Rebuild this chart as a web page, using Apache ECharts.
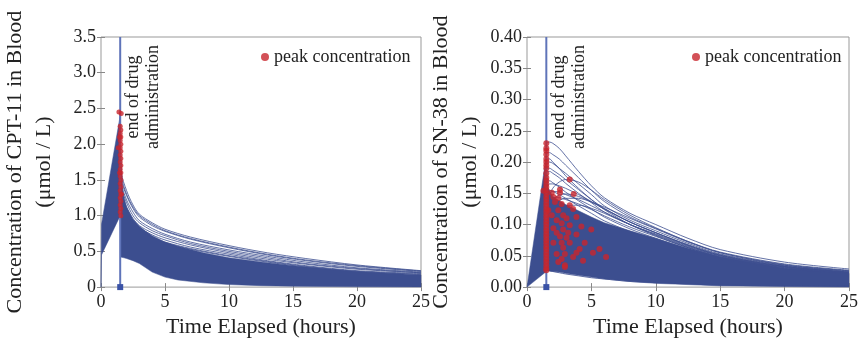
<!DOCTYPE html>
<html>
<head>
<meta charset="utf-8">
<script src="https://cdn.jsdelivr.net/npm/echarts@6/dist/echarts.min.js"></script>
<style>
  html, body { margin: 0; padding: 0; background: #fff; }
  #main { width: 861px; height: 343px; }
</style>
</head>
<body>
<div id="main"></div>
<script>
// ---- CPT-11 (left panel) ----
var cptBandTime  = [0, 0.04, 1.5, 1.55, 1.8, 2, 2.5, 3, 3.5, 4, 5, 6, 8, 10, 12.5, 15, 20, 25];
var cptBandHigh  = [0, 0.88, 2.4, 1.5, 1.25, 1.12, 0.95, 0.85, 0.78, 0.72, 0.63, 0.57, 0.48, 0.41, 0.35, 0.3, 0.22, 0.17];
var cptBandLow   = [0, 0.45, 1.0, 0.42, 0.41, 0.4, 0.37, 0.33, 0.27, 0.21, 0.14, 0.1, 0.06, 0.035, 0.02, 0.012, 0.005, 0.002];

var cptLineTime = [1.5, 1.6, 2, 2.5, 3, 4, 5, 7, 10, 13, 16, 20, 25];
var cptLines = [
  [2.45, 1.6, 1.35, 1.15, 1.02, 0.9, 0.81, 0.7, 0.58, 0.48, 0.4, 0.31, 0.23],
  [2.3, 1.55, 1.3, 1.12, 1.0, 0.88, 0.79, 0.68, 0.56, 0.46, 0.38, 0.3, 0.225],
  [2.2, 1.5, 1.28, 1.1, 0.98, 0.86, 0.78, 0.67, 0.55, 0.45, 0.37, 0.29, 0.22],
  [2.0, 1.45, 1.22, 1.05, 0.93, 0.82, 0.74, 0.63, 0.52, 0.43, 0.35, 0.27, 0.21],
  [1.9, 1.4, 1.18, 1.0, 0.9, 0.79, 0.72, 0.61, 0.5, 0.41, 0.33, 0.26, 0.2],
  [1.8, 1.35, 1.12, 0.96, 0.86, 0.76, 0.69, 0.59, 0.48, 0.39, 0.32, 0.25, 0.2],
  [1.7, 1.3, 1.08, 0.92, 0.83, 0.73, 0.66, 0.56, 0.46, 0.37, 0.3, 0.23, 0.19],
  [1.6, 1.25, 1.04, 0.89, 0.8, 0.7, 0.63, 0.54, 0.44, 0.36, 0.29, 0.22, 0.18],
  [1.5, 1.2, 1.0, 0.87, 0.78, 0.69, 0.62, 0.53, 0.43, 0.35, 0.28, 0.215, 0.175]
];

var cptPeaks = [
  [1.4, 2.45], [1.58, 2.43], [1.35, 1.95],
  [1.5, 2.25], [1.55, 2.2], [1.5, 2.15], [1.55, 2.1], [1.5, 2.05], [1.55, 2.0],
  [1.5, 1.95], [1.55, 1.9], [1.5, 1.85], [1.55, 1.8], [1.5, 1.75], [1.55, 1.7],
  [1.5, 1.65], [1.55, 1.6], [1.5, 1.55], [1.55, 1.5], [1.5, 1.45], [1.55, 1.4],
  [1.5, 1.35], [1.55, 1.3], [1.5, 1.25], [1.55, 1.2], [1.5, 1.15], [1.55, 1.1],
  [1.5, 1.05], [1.55, 1.0], [1.45, 1.6], [1.45, 2.1], [1.6, 1.3]
];

// ---- SN-38 (right panel) ----
var snBandTime = [0, 1.5, 1.6, 2, 2.5, 3, 4, 5, 6, 8, 10, 12.5, 15, 20, 25];
var snBandHigh = [0, 0.21, 0.16, 0.145, 0.138, 0.132, 0.122, 0.112, 0.103, 0.09, 0.078, 0.062, 0.048, 0.03, 0.022];
var snBandLow  = [0, 0.025, 0.026, 0.025, 0.024, 0.022, 0.019, 0.016, 0.013, 0.009, 0.006, 0.004, 0.002, 0.001, 0];

var snLineTime = [1.5, 1.75, 2, 2.5, 3, 4, 5, 6, 8, 10, 12.5, 15, 20, 25];
var snLines = [
  [0.23, 0.232, 0.23, 0.222, 0.21, 0.185, 0.162, 0.143, 0.118, 0.1, 0.078, 0.06, 0.04, 0.029],
  [0.215, 0.215, 0.212, 0.205, 0.195, 0.175, 0.155, 0.137, 0.112, 0.094, 0.073, 0.056, 0.037, 0.027],
  [0.205, 0.205, 0.2, 0.19, 0.178, 0.158, 0.14, 0.124, 0.1, 0.082, 0.063, 0.048, 0.031, 0.022],
  [0.2, 0.2, 0.198, 0.19, 0.182, 0.165, 0.148, 0.13, 0.107, 0.09, 0.07, 0.053, 0.035, 0.026],
  [0.19, 0.19, 0.187, 0.18, 0.172, 0.156, 0.14, 0.126, 0.104, 0.087, 0.067, 0.051, 0.033, 0.024],
  [0.185, 0.185, 0.182, 0.175, 0.166, 0.15, 0.135, 0.12, 0.1, 0.083, 0.064, 0.049, 0.032, 0.023],
  [0.17, 0.17, 0.167, 0.16, 0.152, 0.138, 0.125, 0.112, 0.093, 0.078, 0.06, 0.046, 0.03, 0.022],
  [0.16, 0.165, 0.165, 0.162, 0.158, 0.148, 0.137, 0.125, 0.104, 0.087, 0.067, 0.051, 0.033, 0.024],
  [0.155, 0.155, 0.153, 0.148, 0.142, 0.13, 0.118, 0.106, 0.089, 0.075, 0.058, 0.044, 0.029, 0.021],
  [0.14, 0.15, 0.153, 0.152, 0.148, 0.14, 0.13, 0.12, 0.1, 0.084, 0.065, 0.05, 0.032, 0.023],
  [0.13, 0.14, 0.143, 0.143, 0.14, 0.133, 0.124, 0.114, 0.096, 0.081, 0.063, 0.048, 0.031, 0.022],
  [0.12, 0.145, 0.158, 0.168, 0.172, 0.168, 0.155, 0.14, 0.115, 0.095, 0.073, 0.055, 0.035, 0.025],
  [0.11, 0.13, 0.14, 0.147, 0.149, 0.145, 0.136, 0.125, 0.104, 0.087, 0.068, 0.052, 0.034, 0.024],
  [0.1, 0.118, 0.128, 0.138, 0.142, 0.142, 0.136, 0.128, 0.11, 0.093, 0.072, 0.055, 0.036, 0.026],
  [0.09, 0.105, 0.115, 0.125, 0.13, 0.131, 0.126, 0.118, 0.1, 0.085, 0.066, 0.05, 0.033, 0.023],
  [0.027, 0.026, 0.025, 0.023, 0.021, 0.018, 0.015, 0.013, 0.009, 0.007, 0.005, 0.003, 0.002, 0.001]
];

var snPeaks = [
  [1.5, 0.23], [1.5, 0.222], [1.5, 0.218], [1.5, 0.212], [1.5, 0.205], [1.5, 0.2],
  [1.5, 0.195], [1.5, 0.19], [1.5, 0.182], [1.5, 0.175], [1.5, 0.17], [1.5, 0.165],
  [1.5, 0.16], [1.5, 0.155], [1.5, 0.15], [1.5, 0.145], [1.5, 0.14], [1.5, 0.135],
  [1.5, 0.13], [1.5, 0.125], [1.5, 0.12], [1.5, 0.115], [1.5, 0.11], [1.5, 0.105],
  [1.5, 0.1], [1.5, 0.095], [1.5, 0.09], [1.5, 0.085], [1.5, 0.08], [1.5, 0.075],
  [1.5, 0.07], [1.5, 0.065], [1.5, 0.06], [1.5, 0.055], [1.5, 0.05], [1.5, 0.045],
  [1.5, 0.04], [1.5, 0.035], [1.5, 0.03], [1.5, 0.027], [1.28, 0.154],
  [3.32, 0.172], [3.63, 0.149], [2.56, 0.156], [2.56, 0.151], [1.92, 0.151],
  [2.05, 0.144], [2.43, 0.142], [2.17, 0.136], [2.69, 0.133], [3.32, 0.131],
  [3.58, 0.125], [1.66, 0.123], [2.43, 0.123], [1.92, 0.115], [2.81, 0.115],
  [3.84, 0.112], [3.07, 0.11], [2.3, 0.107], [2.69, 0.102], [3.32, 0.099],
  [4.22, 0.097], [2.05, 0.094], [2.81, 0.092], [4.99, 0.092], [2.3, 0.087],
  [3.2, 0.087], [3.84, 0.084], [2.56, 0.081], [3.07, 0.079], [2.05, 0.071],
  [2.69, 0.071], [3.32, 0.071], [4.48, 0.071], [2.81, 0.063], [4.09, 0.061],
  [5.63, 0.061], [2.3, 0.053], [2.94, 0.053], [3.84, 0.055], [5.12, 0.055],
  [3.58, 0.048], [6.14, 0.048], [2.69, 0.045], [4.35, 0.042], [2.43, 0.04],
  [2.94, 0.035], [2.94, 0.032]
];

var timeTicks = [0, 25, 5];
var endOfDrug = 1.5;

var FONT = 'Liberation Serif';
var BLUE = '#3c4e8f';
var RED = '#c8262d';

function band(xi, yi, t, hi, lo) {
    return {
        type: 'custom',
        xAxisIndex: xi, yAxisIndex: yi,
        silent: true,
        z: 1,
        data: [[0, 0]],
        renderItem: function (params, api) {
            var pts = [];
            for (var i = 0; i < t.length; i++) pts.push(api.coord([t[i], hi[i]]));
            for (var j = t.length - 1; j >= 0; j--) pts.push(api.coord([t[j], lo[j]]));
            return { type: 'polygon', shape: { points: pts }, style: { fill: BLUE, stroke: BLUE, lineWidth: 0.5 } };
        }
    };
}

function curves(xi, yi, t, lines) {
    return lines.map(function (vals) {
        return {
            type: 'line', xAxisIndex: xi, yAxisIndex: yi, silent: true, z: 2,
            symbol: 'none', smooth: 0.3,
            lineStyle: { color: BLUE, width: 0.8 },
            data: vals.map(function (v, i) { return [t[i], v]; })
        };
    });
}

function drugLine(xi, yi, top) {
    return {
        type: 'line', xAxisIndex: xi, yAxisIndex: yi, silent: true, z: 3,
        lineStyle: { color: '#5f74b9', width: 2 },
        data: [
            { value: [endOfDrug, 0], symbol: 'rect', symbolSize: 6, itemStyle: { color: '#3a52a6' } },
            { value: [endOfDrug, top], symbol: 'none' }
        ]
    };
}

function peaks(xi, yi, pts, size) {
    return {
        name: 'peak concentration', type: 'scatter', xAxisIndex: xi, yAxisIndex: yi, z: 4,
        symbolSize: size, itemStyle: { color: RED },
        data: pts
    };
}

function xAxes(gi) {
    var base = {
        gridIndex: gi, type: 'value', min: timeTicks[0], max: timeTicks[1], interval: timeTicks[2],
        splitLine: { show: false },
        axisLine: { show: false },
        axisTick: { inside: true, length: 4, lineStyle: { color: '#888' } }
    };
    return [
        Object.assign({}, base, {
            position: 'bottom',
            axisLabel: { color: '#222', fontFamily: FONT, fontSize: 18, margin: 6 },
            name: 'Time Elapsed (hours)', nameLocation: 'middle', nameGap: 24,
            nameTextStyle: { color: '#222', fontFamily: FONT, fontSize: 22 }
        }),
        Object.assign({}, base, { position: 'top', axisLabel: { show: false } })
    ];
}

function yAxes(gi, max, step, digits, title) {
    var base = {
        gridIndex: gi, type: 'value', min: 0, max: max, interval: step,
        splitLine: { show: false },
        axisLine: { show: false },
        axisTick: { inside: true, length: 4, lineStyle: { color: '#888' } }
    };
    return [
        Object.assign({}, base, {
            position: 'left',
            axisLabel: {
                color: '#222', fontFamily: FONT, fontSize: 18, margin: 5,
                formatter: function (v) { return (v === 0 && digits === 1) ? '0' : v.toFixed(digits); }
            },
            name: title, nameLocation: 'middle', nameGap: 42,
            nameTextStyle: { color: '#222', fontFamily: FONT, fontSize: 22, lineHeight: 29 }
        }),
        Object.assign({}, base, { position: 'right', axisLabel: { show: false } })
    ];
}

var chart = echarts.init(document.getElementById('main'));

var option = {
    animation: false,
    backgroundColor: '#fff',
    grid: [
        { left: 95, top: 37, width: 326, height: 256, show: true, borderColor: '#999', borderWidth: 1 },
        { left: 527, top: 37, width: 326, height: 257, show: true, borderColor: '#999', borderWidth: 1 }
    ],
    legend: [
        { data: ['peak concentration'], left: 256, top: 43, icon: 'circle', itemWidth: 8, itemHeight: 8, itemGap: 4,
          textStyle: { color: '#222', fontFamily: FONT, fontSize: 18 } },
        { data: ['peak concentration'], left: 687, top: 43, icon: 'circle', itemWidth: 8, itemHeight: 8, itemGap: 4,
          textStyle: { color: '#222', fontFamily: FONT, fontSize: 18 } }
    ],
    xAxis: xAxes(0).concat(xAxes(1)),
    yAxis: yAxes(0, 3.5, 0.5, 1, 'Concentration of CPT-11 in Blood\n(\u03bcmol / L)')
        .concat(yAxes(1, 0.4, 0.05, 2, 'Concentration of SN-38 in Blood\n(\u03bcmol / L)')),
    series: [].concat(
        [band(0, 0, cptBandTime, cptBandHigh, cptBandLow)],
        curves(0, 0, cptLineTime, cptLines),
        [drugLine(0, 0, 3.5), peaks(0, 0, cptPeaks, 5)],
        [band(2, 2, snBandTime, snBandHigh, snBandLow)],
        curves(2, 2, snLineTime, snLines),
        [drugLine(2, 2, 0.4), peaks(2, 2, snPeaks, 6)]
    )
};

chart.setOption(option);

// rotated "end of drug administration" note beside each vertical line
var noteLeft = chart.convertToPixel({ gridIndex: 0 }, [endOfDrug, 3.5]);
var noteRight = chart.convertToPixel({ gridIndex: 1 }, [endOfDrug, 0.4]);
function note(p) {
    return {
        type: 'text', x: p[0] + 23, y: p[1] + 60, rotation: Math.PI / 2,
        style: {
            text: 'end of drug\nadministration', fill: '#222', font: '18px "' + FONT + '"',
            align: 'center', verticalAlign: 'middle', lineHeight: 20
        }
    };
}
chart.setOption({ graphic: [note(noteLeft), note(noteRight)] });
</script>
</body>
</html>
